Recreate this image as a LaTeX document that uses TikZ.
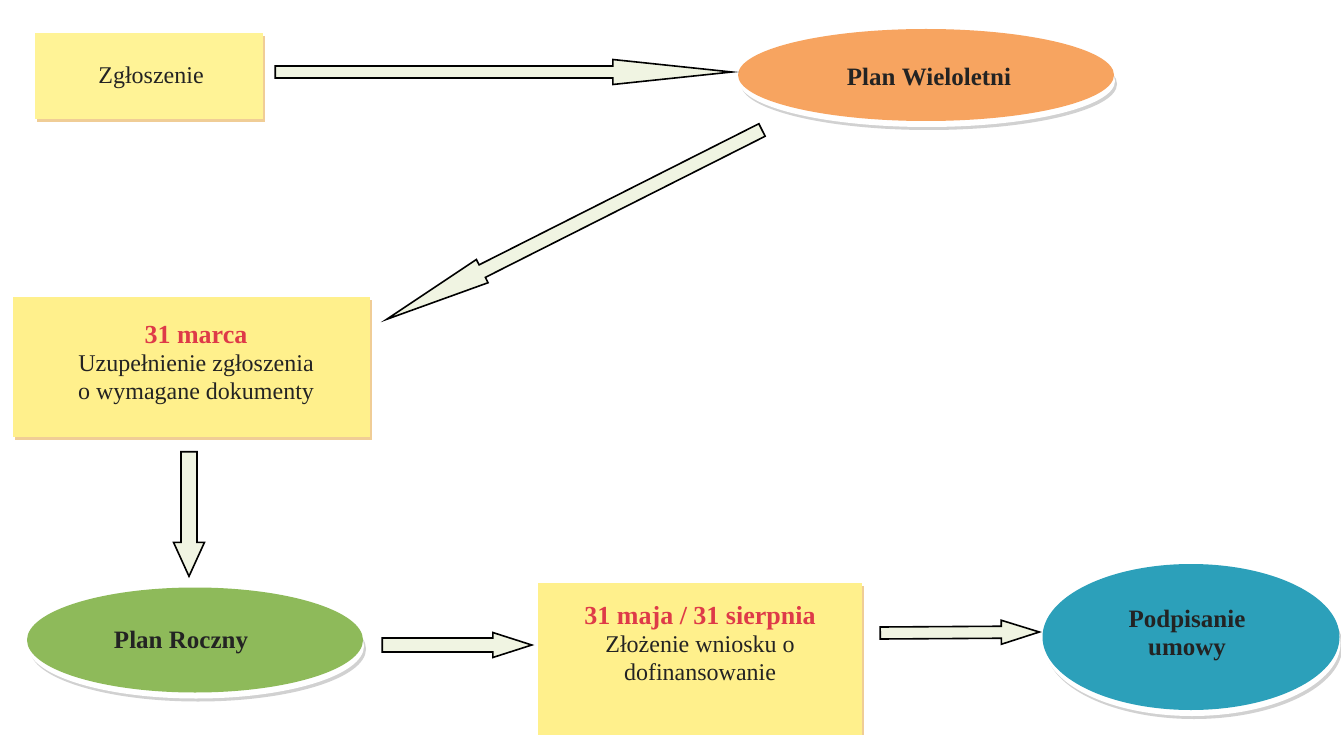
\documentclass[tikz,border=0pt]{standalone}
\usepackage{fontspec}
\setmainfont{Liberation Serif}
\usetikzlibrary{calc,shapes.geometric,shadows}
\definecolor{boxfill}{RGB}{255,243,150}
\definecolor{boxfilltwo}{RGB}{255,240,140}
\definecolor{boxshadow}{RGB}{240,205,150}
\definecolor{orangefill}{RGB}{247,164,96}
\definecolor{greenfill}{RGB}{142,186,90}
\definecolor{tealfill}{RGB}{44,160,186}
\definecolor{redtext}{RGB}{222,58,72}
\definecolor{darktext}{RGB}{35,35,35}
\definecolor{arrowfill}{RGB}{240,244,226}
\newcommand{\blockarr}[5]{%
  \coordinate (#1-hb) at ($(#2)!#5!(#1)$);
  \draw[blockarrow] ($(#1)!#3!90:(#2)$) -- ($(#1-hb)!#3!90:(#2)$) -- ($(#1-hb)!#4!90:(#2)$) -- (#2)
    -- ($(#1-hb)!#4!-90:(#2)$) -- ($(#1-hb)!#3!-90:(#2)$) -- ($(#1)!#3!-90:(#2)$) -- cycle;}
\tikzset{
  every node/.style={font=\fontsize{24}{28}\selectfont, text=darktext, align=center},
  boxnode/.style={rectangle, fill=boxfill, inner sep=0pt,
    general shadow={fill=boxshadow, shadow xshift=2pt, shadow yshift=-3pt}},
  ovalnode/.style={ellipse, inner sep=0pt,
    general shadow={fill=black!18, shadow xshift=3pt, shadow yshift=-9pt},
    general shadow={fill=white, shadow xshift=1pt, shadow yshift=-6pt}},
  blockarrow/.style={draw=black, line width=1.6pt, fill=arrowfill, line join=miter},
  txt/.style={inner sep=0pt},
  datetxt/.style={font=\fontsize{26}{28}\selectfont\bfseries, text=redtext},
  boldtxt/.style={font=\fontsize{25}{28}\selectfont\bfseries}
}
\begin{document}
\begin{tikzpicture}[x=1pt,y=-1pt]
\useasboundingbox[fill=white] (0,0) rectangle (1341,735);
% nodes
\node[boxnode, minimum width=228pt, minimum height=86pt] (zg) at (149,76) {};
\node[txt] (zgt) at (151,78) {Zgłoszenie};
\node[ovalnode, fill=orangefill, minimum width=376pt, minimum height=92pt] (pw) at (926,75) {};
\node[txt, boldtxt] (pwt) at (929,77) {Plan Wieloletni};
\node[boxnode, fill=boxfilltwo, minimum width=357pt, minimum height=139pt] (mar) at (191,367) {};
\node[txt] (mart) at (196,365) {\textcolor{redtext}{\fontsize{26}{28}\selectfont\bfseries 31 marca}\\Uzupełnienie zgłoszenia\\o wymagane dokumenty};
\node[ovalnode, fill=greenfill, minimum width=336pt, minimum height=105pt] (pr) at (195,640) {};
\node[txt, boldtxt] (prt) at (181,643) {Plan Roczny};
\node[boxnode, fill=boxfilltwo, minimum width=324pt, minimum height=154pt] (maj) at (700,660) {};
\node[txt] (majt) at (700,644) {\textcolor{redtext}{\fontsize{26}{28}\selectfont\bfseries 31 maja / 31 sierpnia}\\Złożenie wniosku o\\dofinansowanie};
\node[ovalnode, fill=tealfill, minimum width=297pt, minimum height=146pt] (pu) at (1191,637) {};
\node[txt, boldtxt] (put) at (1187,636) {Podpisanie\\umowy};
% connector ends
\coordinate (a1s) at ($(zg.east)+(12,-4)$);
\coordinate (a1e) at ($(pw.west)+(-6,-3)$);
\coordinate (a2s) at (762,130);
\coordinate (a2e) at ($(mar.north east)+(17,22)$);
\coordinate (a3s) at ($(mar.south)+(-2,15)$);
\coordinate (a3e) at ($(pr.north)+(-6,-11)$);
\coordinate (a4s) at ($(pr.east)+(19,5)$);
\coordinate (a4e) at ($(maj.west)+(-6,-15)$);
\coordinate (a5s) at ($(maj.east)+(18,-27)$);
\coordinate (a5e) at ($(pu.west)+(-3,-5)$);
% connectors
\blockarr{a1s}{a1e}{6pt}{12.5pt}{119pt}
\blockarr{a2s}{a2e}{7pt}{13pt}{107pt}
\blockarr{a3s}{a3e}{8pt}{15.5pt}{34pt}
\blockarr{a4s}{a4e}{7pt}{12.5pt}{39pt}
\blockarr{a5s}{a5e}{6pt}{12pt}{38pt}
\end{tikzpicture}
\end{document}
